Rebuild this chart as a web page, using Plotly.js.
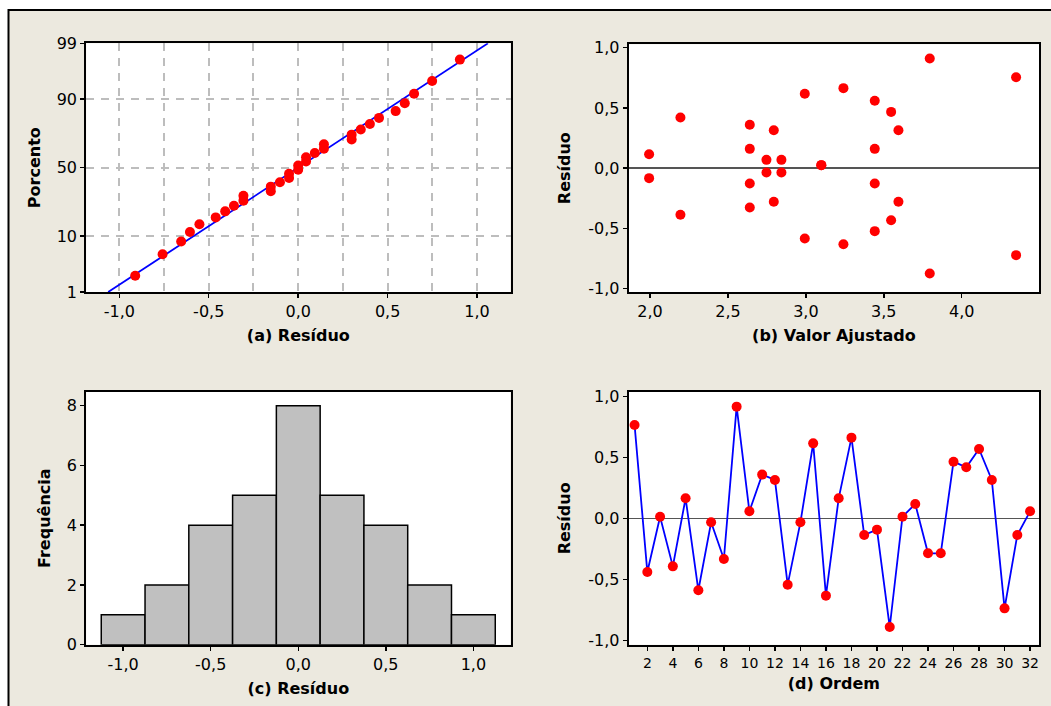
<!DOCTYPE html>
<html><head><meta charset="utf-8">
<script src="https://cdn.plot.ly/plotly-3.0.1.min.js"></script>
<style>html,body{margin:0;padding:0;background:#fff;}#chart{width:1051px;height:706px;}</style>
</head><body><div id="chart"></div>
<script>
// ---- (a) Normal probability plot ----
const probResiduals = [-0.911,-0.758,-0.654,-0.605,-0.552,-0.461,-0.408,-0.359,-0.306,-0.306,-0.153,-0.153,-0.102,-0.051,-0.051,0.0,0.0,0.044,0.044,0.093,0.144,0.144,0.299,0.299,0.350,0.401,0.452,0.545,0.596,0.648,0.749,0.904];
const fitLineResiduo = [-1.062, 1.061];
const fitLinePercent = [1, 99];
const percentTicks = [1, 10, 50, 90, 99];
const percentTickText = ['1', '10', '50', '90', '99'];
const residTicks = [-1.0, -0.5, 0.0, 0.5, 1.0];
const residTickText = ['-1,0', '-0,5', '0,0', '0,5', '1,0'];
// ---- (b) Residuals vs fitted ----
const fittedValues = [1.994,1.994,2.195,2.195,2.640,2.640,2.640,2.640,2.747,2.747,2.794,2.794,2.843,2.843,2.993,2.993,3.099,3.099,3.241,3.241,3.442,3.442,3.442,3.442,3.547,3.547,3.594,3.594,3.795,3.795,4.349,4.349];
const fittedResiduals = [0.116,-0.083,0.420,-0.387,0.360,0.160,-0.127,-0.326,0.069,-0.036,0.315,-0.279,0.069,-0.036,0.617,-0.584,0.025,0.025,0.664,-0.631,0.559,0.160,-0.127,-0.523,0.467,-0.432,0.315,-0.279,0.910,-0.874,0.755,-0.722];
const fittedTicks = [2.0, 2.5, 3.0, 3.5, 4.0];
const fittedTickText = ['2,0', '2,5', '3,0', '3,5', '4,0'];
// ---- (c) Histogram ----
const binCenters = [-1.0, -0.75, -0.5, -0.25, 0.0, 0.25, 0.5, 0.75, 1.0];
const binCounts = [1, 2, 4, 5, 8, 5, 4, 2, 1];
const freqTicks = [0, 2, 4, 6, 8];
// ---- (d) Residuals vs order ----
const orderIndex = [1,2,3,4,5,6,7,8,9,10,11,12,13,14,15,16,17,18,19,20,21,22,23,24,25,26,27,28,29,30,31,32];
const orderResiduals = [0.768,-0.437,0.016,-0.391,0.167,-0.587,-0.030,-0.331,0.918,0.060,0.361,0.317,-0.541,-0.030,0.617,-0.631,0.167,0.664,-0.134,-0.090,-0.888,0.016,0.120,-0.284,-0.284,0.467,0.421,0.571,0.317,-0.735,-0.134,0.060];
const orderTicks = [2,4,6,8,10,12,14,16,18,20,22,24,26,28,30,32];

function normInv(p){
  const a=[-3.969683028665376e+01,2.209460984245205e+02,-2.759285104469687e+02,1.383577518672690e+02,-3.066479806614716e+01,2.506628277459239e+00];
  const b=[-5.447609879822406e+01,1.615858368580409e+02,-1.556989798598866e+02,6.680131188771972e+01,-1.328068155288572e+01];
  const c=[-7.784894002430293e-03,-3.223964580411365e-01,-2.400758277161838e+00,-2.549732539343734e+00,4.374664141464968e+00,2.938163982698783e+00];
  const d=[7.784695709041462e-03,3.224671290700398e-01,2.445134137142996e+00,3.754408661907416e+00];
  const pl=0.02425, ph=1-pl; let q,r;
  if(p<pl){q=Math.sqrt(-2*Math.log(p));return (((((c[0]*q+c[1])*q+c[2])*q+c[3])*q+c[4])*q+c[5])/((((d[0]*q+d[1])*q+d[2])*q+d[3])*q+1);}
  if(p<=ph){q=p-0.5;r=q*q;return (((((a[0]*r+a[1])*r+a[2])*r+a[3])*r+a[4])*r+a[5])*q/(((((b[0]*r+b[1])*r+b[2])*r+b[3])*r+b[4])*r+1);}
  q=Math.sqrt(-2*Math.log(1-p));return -(((((c[0]*q+c[1])*q+c[2])*q+c[3])*q+c[4])*q+c[5])/((((d[0]*q+d[1])*q+d[2])*q+d[3])*q+1);
}
// Minitab plotting positions (i-0.3)/(n+0.4)
const n = probResiduals.length;
const probZ = probResiduals.map((v,i)=>normInv((i+1-0.3)/(n+0.4)));
const lineZ = fitLinePercent.map(p=>normInv(p/100));
const percentTickZ = percentTicks.map(p=>normInv(p/100));

const W=1051, H=706;
const FONT='DejaVu Sans';
const dx=(a,b)=>[a/W,b/W];
const dy=(top,bot)=>[1-bot/H,1-top/H];
const tickFont={family:FONT,size:16,color:'#000'};
const titleFont={family:FONT,size:16,color:'#000',weight:'bold'};
const common={showline:true,linecolor:'#000',linewidth:2,mirror:true,ticks:'outside',ticklen:4,tickwidth:1.5,tickcolor:'#000',tickfont:tickFont,zeroline:false,showgrid:false,fixedrange:true};
const red='#ff0000', blue='#0000ff';
const gridGrey='#bdbdbd';

const traces=[
  {type:'scatter',mode:'lines',x:fitLineResiduo,y:lineZ,xaxis:'x',yaxis:'y',line:{color:blue,width:1.8},hoverinfo:'skip'},
  {type:'scatter',mode:'markers',x:probResiduals,y:probZ,xaxis:'x',yaxis:'y',marker:{color:red,size:10}},
  {type:'scatter',mode:'markers',x:fittedValues,y:fittedResiduals,xaxis:'x2',yaxis:'y2',marker:{color:red,size:10}},
  {type:'bar',x:binCenters,y:binCounts,width:0.25,xaxis:'x3',yaxis:'y3',marker:{color:'#c0c0c0',line:{color:'#000',width:1.5}}},
  {type:'scatter',mode:'lines+markers',x:orderIndex,y:orderResiduals,xaxis:'x4',yaxis:'y4',line:{color:blue,width:1.8},marker:{color:red,size:10}}
];

const layout={
  width:W,height:H,margin:{l:0,r:0,t:0,b:0},showlegend:false,
  paper_bgcolor:'#ece9df',plot_bgcolor:'#ffffff',
  font:{family:FONT,color:'#000'},
  xaxis:Object.assign({},common,{domain:dx(86.2,510.5),anchor:'y',range:[-1.185,1.187],tickmode:'array',tickvals:residTicks,ticktext:residTickText,
    showgrid:true,gridcolor:gridGrey,gridwidth:2,griddash:'8px,7px',
    minor:{tickmode:'linear',tick0:0,dtick:0.25,showgrid:true,gridcolor:gridGrey,gridwidth:2,griddash:'8px,7px',ticks:''},
    title:{text:'(a) Resíduo',font:titleFont,standoff:10}}),
  yaxis:Object.assign({},common,{domain:dy(43.3,292),anchor:'x',range:[lineZ[0],lineZ[1]],tickmode:'array',tickvals:percentTickZ,ticktext:percentTickText,
    showgrid:true,gridcolor:gridGrey,gridwidth:2,griddash:'8px,7px',
    title:{text:'Porcento',font:titleFont,standoff:12}}),
  xaxis2:Object.assign({},common,{domain:dx(628.7,1039),anchor:'y2',range:[1.863,4.496],tickmode:'array',tickvals:fittedTicks,ticktext:fittedTickText,
    title:{text:'(b) Valor Ajustado',font:titleFont,standoff:10}}),
  yaxis2:Object.assign({},common,{domain:dy(44.3,292),anchor:'x2',range:[-1.028,1.028],tickmode:'array',tickvals:residTicks,ticktext:residTickText,
    zeroline:true,zerolinecolor:'#555555',zerolinewidth:1.5,
    title:{text:'Resíduo',font:titleFont,standoff:14}}),
  xaxis3:Object.assign({},common,{domain:dx(86.2,510.5),anchor:'y3',range:[-1.211,1.212],tickmode:'array',tickvals:residTicks,ticktext:residTickText,
    title:{text:'(c) Resíduo',font:titleFont,standoff:10}}),
  yaxis3:Object.assign({},common,{domain:dy(391.7,644.7),anchor:'x3',range:[0,8.47],tickmode:'array',tickvals:freqTicks,ticktext:freqTicks.map(String),
    title:{text:'Frequência',font:titleFont,standoff:12}}),
  xaxis4:Object.assign({},common,{domain:dx(628.7,1039),anchor:'y4',range:[0.54,32.7],tickmode:'array',tickvals:orderTicks,ticktext:orderTicks.map(String),
    tickfont:{family:FONT,size:14,color:'#000'},
    title:{text:'(d) Ordem',font:titleFont,standoff:8}}),
  yaxis4:Object.assign({},common,{domain:dy(392,644.7),anchor:'x4',range:[-1.033,1.038],tickmode:'array',tickvals:residTicks,ticktext:residTickText,
    zeroline:true,zerolinecolor:'#555555',zerolinewidth:1.5,
    title:{text:'Resíduo',font:titleFont,standoff:14}}),
  shapes:[
    {type:'rect',xref:'paper',yref:'paper',x0:0,x1:8/W,y0:0,y1:1,fillcolor:'#ffffff',line:{width:0},layer:'below'},
    {type:'rect',xref:'paper',yref:'paper',x0:0,x1:1,y0:1-9/H,y1:1,fillcolor:'#ffffff',line:{width:0},layer:'below'},
    {type:'path',xref:'paper',yref:'paper',path:`M ${8.5/W} 0 L ${8.5/W} ${1-10/H} L 1 ${1-10/H}`,line:{color:'#000',width:2},layer:'above'}
  ]
};
Plotly.newPlot('chart',traces,layout,{displayModeBar:false,staticPlot:true});
</script></body></html>
